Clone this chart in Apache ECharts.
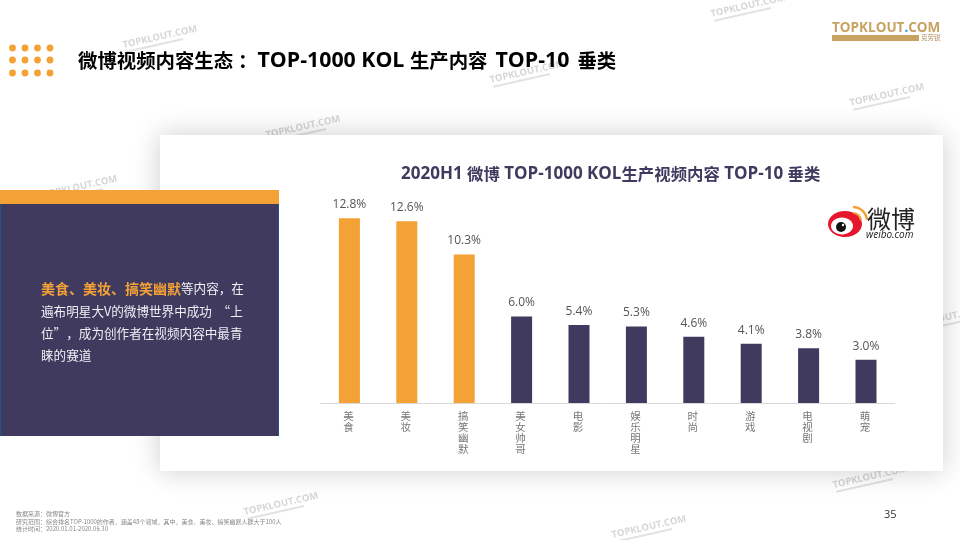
<!DOCTYPE html>
<html lang="zh-CN">
<head>
<meta charset="utf-8">
<title>微博视频内容生态</title>
<script src="https://cdn.jsdelivr.net/npm/echarts@6/dist/echarts.min.js"></script>
<style>
  html, body { margin: 0; padding: 0; background: #fff; }
  #main { width: 960px; height: 540px; }
</style>
</head>
<body>
<div id="main"></div>
<script>
var categories = ['美食', '美妆', '搞笑幽默', '美女帅哥', '电影', '娱乐明星', '时尚', '游戏', '电视剧', '萌宠'];
var shareValues = [12.8, 12.6, 10.3, 6.0, 5.4, 5.3, 4.6, 4.1, 3.8, 3.0];
var highlightCount = 3;

var footerLines = [
    '数据来源：微博官方',
    '研究范围：综合排名TOP-1000的作者，涵盖48个领域，其中，美食、美妆、搞笑幽默人群大于100人',
    '统计时间：2020.01.01-2020.06.30'
];

var ORANGE = '#f4a136';
var NAVY = '#403a5f';
var LATIN = '"Open Sans",sans-serif';
var CJK = '"Noto Sans CJK SC",sans-serif';

// watermark centres
var marks = [[748, 6], [887, 95], [527, 72], [160, 37], [303, 127], [80, 187], [945, 318], [281, 504], [649, 527], [870, 477]];

function watermark(p) {
    return {
        type: 'group', x: p[0], y: p[1], rotation: 0.22, silent: true,
        children: [
            { type: 'text', style: { x: 0, y: 0, text: 'TOPKLOUT.COM', fill: '#d6d6d6', font: 'bold 9.5px ' + LATIN, align: 'center', verticalAlign: 'middle' } },
            { type: 'rect', shape: { x: -36, y: 6, width: 58, height: 2 }, style: { fill: '#e2e2e2' } }
        ]
    };
}

var graphics = marks.map(watermark);

// orange dot block
[12.5, 25, 37.5, 50].forEach(function (x) {
    [48, 60, 73].forEach(function (y) {
        graphics.push({ type: 'circle', shape: { cx: x, cy: y, r: 3.4 }, style: { fill: ORANGE } });
    });
});

graphics.push(
    { type: 'text', style: {
        x: 78, y: 61, verticalAlign: 'middle',
        text: '{c|微博视频内容生态}{s| }{c|：}{l|TOP-1000 KOL }{c|生产内容}{t| }{l| TOP-10 }{t| }{c|垂类}',
        rich: {
            c: { fill: '#000', font: 'bold 19.4px ' + CJK },
            l: { fill: '#000', font: 'bold 21.3px ' + LATIN },
            s: { width: 5, font: '10px ' + CJK },
            t: { width: 2.5, font: '10px ' + CJK }
        }
    } },
    // brand logo
    { type: 'text', style: {
        x: 832, y: 28, verticalAlign: 'middle',
        text: '{a|TOPKLOUT}{b|.}{a|COM}',
        rich: {
            a: { fill: '#c8a263', font: 'bold 13.5px ' + LATIN },
            b: { fill: '#2f9bd6', font: 'bold 13.5px ' + LATIN }
        }
    } },
    { type: 'rect', shape: { x: 832, y: 35, width: 87, height: 6 }, style: { fill: '#c8a263' } },
    { type: 'text', style: { x: 921, y: 38, text: '克劳锐', fill: '#b09060', font: '6.5px ' + CJK, verticalAlign: 'middle' } },
    // card
    { type: 'rect', shape: { x: 160, y: 135, width: 783, height: 336 }, style: { fill: '#fff', shadowBlur: 26, shadowColor: 'rgba(0,0,0,0.2)' } },
    // left panel
    { type: 'rect', shape: { x: 0, y: 204, width: 279, height: 232 }, style: { fill: NAVY } },
    { type: 'rect', shape: { x: 0, y: 204, width: 1, height: 232 }, style: { fill: '#24508c' } },
    { type: 'rect', shape: { x: 278, y: 204, width: 1, height: 232 }, style: { fill: '#24508c' } },
    { type: 'rect', shape: { x: 0, y: 190, width: 279, height: 14 }, style: { fill: ORANGE } },
    { type: 'text', style: {
        x: 41, y: 322,
        text: '{hl|美食、美妆、搞笑幽默}{tx|等内容，在}\n{tx|遍布明星大V的微博世界中成功  “上}\n{tx|位”，成为创作者在视频内容中最青}\n{tx|睐的赛道}',
        verticalAlign: 'middle',
        rich: {
            hl: { fill: ORANGE, font: 'bold 14px ' + CJK, lineHeight: 22.3 },
            tx: { fill: '#f0eff4', font: '12.6px ' + CJK, lineHeight: 22.3 }
        }
    } },
    // weibo logo
    { type: 'ellipse', shape: { cx: 845, cy: 224, rx: 17, ry: 13 }, style: { fill: '#e6162d' } },
    { type: 'ellipse', shape: { cx: 842, cy: 226, rx: 11, ry: 8.5 }, style: { fill: '#fff' } },
    { type: 'circle', shape: { cx: 841, cy: 227, r: 5 }, style: { fill: '#111' } },
    { type: 'circle', shape: { cx: 843, cy: 225, r: 1.2 }, style: { fill: '#fff' } },
    { type: 'arc', shape: { cx: 853, cy: 221, r: 14, startAngle: -1.57, endAngle: -0.1 }, style: { stroke: ORANGE, lineWidth: 2.6, fill: 'none' } },
    { type: 'arc', shape: { cx: 853, cy: 221, r: 8, startAngle: -1.5, endAngle: -0.1 }, style: { stroke: ORANGE, lineWidth: 2.2, fill: 'none' } },
    { type: 'text', style: { x: 867, y: 218.5, text: '微博', fill: '#222', font: '24px ' + CJK, verticalAlign: 'middle' } },
    { type: 'text', style: { x: 866, y: 235, text: 'weibo.com', fill: '#222', font: 'italic 10px ' + LATIN, verticalAlign: 'middle' } },
    // page number and footer
    { type: 'text', style: { x: 884, y: 515, text: '35', fill: '#333', font: '11px ' + LATIN, verticalAlign: 'middle' } },
    { type: 'text', style: { x: 16, y: 521.5, text: footerLines.join('\n'), fill: '#888', font: '6px ' + CJK, lineHeight: 7.5, verticalAlign: 'middle' } }
);

var chart = echarts.init(document.getElementById('main'), null, { renderer: 'canvas' });
chart.setOption({
    animation: false,
    backgroundColor: '#fff',
    title: {
        text: '{l|2020H1 }{c|微博}{l| TOP-1000 KOL}{c|生产视频内容}{l| TOP-10 }{c|垂类}',
        left: 401, top: 163, padding: 0,
        textStyle: {
            rich: {
                c: { color: NAVY, fontFamily: CJK, fontWeight: 'bold', fontSize: 16.4, lineHeight: 22 },
                l: { color: NAVY, fontFamily: LATIN, fontWeight: 'bold', fontSize: 17, lineHeight: 22 }
            }
        }
    },
    graphic: { elements: graphics },
    grid: { left: 320.7, right: 65.3, top: 201, bottom: 137, containLabel: false },
    xAxis: {
        type: 'category',
        data: categories,
        axisTick: { show: false },
        axisLine: { lineStyle: { color: '#d9d9d9', width: 1 } },
        axisLabel: {
            interval: 0, margin: 8, color: '#777', fontFamily: CJK, fontSize: 10.5, lineHeight: 11, verticalAlign: 'top',
            padding: [0, 2, 0, 0],
            formatter: function (v) { return v.split('').join('\n'); }
        }
    },
    yAxis: { type: 'value', min: 0, max: 14, show: false, splitLine: { show: false } },
    series: [{
        type: 'bar',
        barWidth: 21,
        data: shareValues.map(function (v, i) {
            return { value: v, itemStyle: { color: i < highlightCount ? ORANGE : NAVY } };
        }),
        label: {
            show: true, position: 'top', distance: 7.5,
            color: '#555', fontFamily: LATIN, fontSize: 12,
            formatter: function (p) { return p.value.toFixed(1) + '%'; }
        }
    }]
});
</script>
</body>
</html>
